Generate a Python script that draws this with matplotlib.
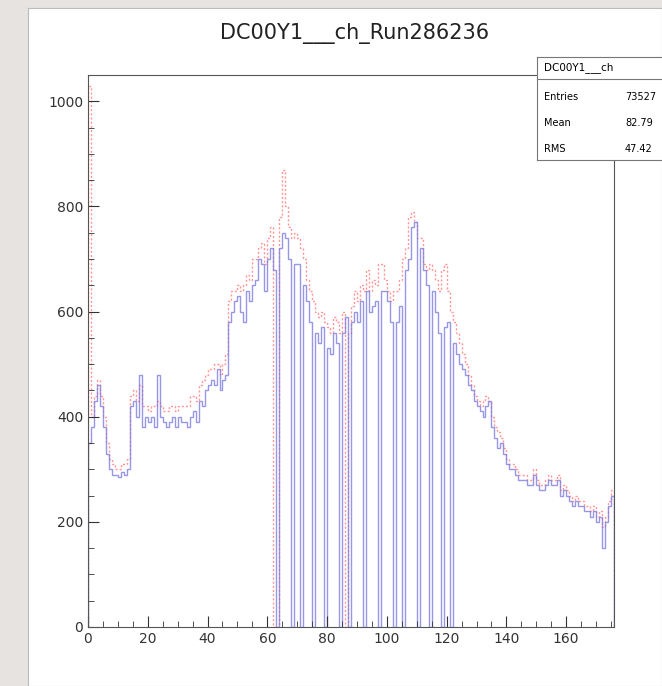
import matplotlib
matplotlib.use("Agg")
import matplotlib.pyplot as plt
import numpy as np
from matplotlib.ticker import MultipleLocator

title = "DC00Y1___ch_Run286236"
stat_labels = ["Entries", "Mean", "RMS"]
stat_values = ["73527", "82.79", "47.42"]

blue = [350, 380, 430, 460, 420, 380, 330, 300, 290, 290,
        285, 295, 290, 300, 420, 430, 400, 480, 380, 400,
        390, 400, 380, 480, 400, 390, 380, 390, 400, 380,
        400, 390, 390, 380, 400, 410, 390, 430, 420, 450,
        460, 470, 460, 490, 450, 470, 480, 580, 600, 620,
        630, 600, 580, 640, 620, 650, 660, 700, 690, 640,
        700, 720, 680, 0, 720, 750, 740, 700, 0, 690,
        690, 0, 650, 620, 580, 0, 560, 540, 570, 0,
        530, 520, 560, 540, 0, 560, 590, 0, 580, 600,
        580, 620, 0, 640, 600, 610, 620, 0, 640, 640,
        620, 580, 0, 580, 610, 0, 680, 700, 760, 770,
        0, 720, 680, 650, 0, 640, 600, 560, 0, 570,
        580, 0, 540, 520, 500, 490, 480, 460, 450, 430,
        420, 410, 400, 420, 430, 380, 360, 340, 350, 330,
        310, 300, 300, 290, 280, 280, 280, 270, 270, 290,
        270, 260, 260, 270, 280, 270, 270, 280, 250, 260,
        250, 240, 230, 240, 230, 230, 220, 220, 210, 220,
        200, 210, 150, 200, 230, 250]

red = [1030, 400, 440, 470, 440, 400, 350, 320, 310, 300,
       300, 310, 310, 320, 440, 450, 430, 460, 420, 420,
       410, 420, 420, 430, 420, 410, 410, 420, 420, 410,
       420, 420, 420, 420, 440, 440, 430, 460, 470, 480,
       490, 490, 500, 500, 480, 500, 520, 620, 640, 640,
       650, 640, 650, 670, 660, 700, 700, 720, 730, 690,
       740, 760, 0, 0, 780, 870, 800, 760, 740, 750,
       740, 720, 700, 660, 640, 620, 600, 590, 600, 580,
       570, 560, 590, 580, 560, 600, 0, 560, 610, 640,
       620, 650, 640, 680, 640, 660, 650, 690, 690, 660,
       640, 620, 640, 640, 660, 700, 720, 780, 790, 770,
       740, 740, 690, 680, 690, 680, 660, 640, 680, 690,
       640, 600, 580, 560, 540, 520, 500, 480, 460, 440,
       430, 420, 430, 440, 430, 400, 380, 370, 360, 340,
       320, 310, 310, 300, 290, 290, 290, 280, 280, 300,
       280, 270, 270, 280, 290, 280, 280, 290, 260, 270,
       260, 250, 240, 250, 240, 240, 230, 230, 220, 230,
       210, 220, 190, 210, 240, 260]

edges = np.arange(len(blue) + 1)

fig = plt.figure(figsize=(6.62, 6.86), dpi=100, facecolor="#e6e3e0")
bg = fig.add_axes([28 / 662, 0, 1 - 28 / 662, 1 - 8 / 686], zorder=-1)
bg.set_facecolor("white")
bg.set_xticks([])
bg.set_yticks([])
for s in bg.spines.values():
    s.set_color("#bbbbbb")

ax = fig.add_axes([88 / 662, 1 - 627 / 686, (614 - 88) / 662, (627 - 75) / 686], zorder=1)
ax.stairs(red, edges, color="#ff8a8a", lw=1.0, ls=(0, (1.5, 1.5)), alpha=0.9)
ax.stairs(blue, edges, color="#7d7de0", lw=1.0, alpha=0.8)

ax.set_xlim(0, len(blue))
ax.set_ylim(0, 1050)
ax.xaxis.set_major_locator(MultipleLocator(20))
ax.xaxis.set_minor_locator(MultipleLocator(5))
ax.yaxis.set_major_locator(MultipleLocator(200))
ax.yaxis.set_minor_locator(MultipleLocator(50))
ax.tick_params(which="both", direction="in", top=False, right=False, labelsize=10, colors="#333333")
ax.tick_params(which="major", length=8)
ax.tick_params(which="minor", length=4)
for s in ax.spines.values():
    s.set_color("#555555")
    s.set_linewidth(0.8)

fig.text(355 / 662, 1 - 33 / 686, title, ha="center", va="center", fontsize=15, color="#222222")

# stats box, clipped at the right edge as in the source screenshot
sb = fig.add_axes([537 / 662, 1 - 160 / 686, 140 / 662, 103 / 686], zorder=2)
sb.set_xlim(0, 140)
sb.set_ylim(103, 0)
sb.set_xticks([])
sb.set_yticks([])
for s in sb.spines.values():
    s.set_color("#777777")
    s.set_linewidth(0.8)
sb.axhline(22, color="#777777", lw=0.8)
sb.text(7, 11, "DC00Y1___ch", fontsize=7.5, va="center")
for i, (lab, val) in enumerate(zip(stat_labels, stat_values)):
    y = 40 + i * 26
    sb.text(7, y, lab, fontsize=7, va="center")
    sb.text(88, y, val, fontsize=7, va="center", clip_on=True)

fig.savefig("out.png", dpi=100, facecolor=fig.get_facecolor())
